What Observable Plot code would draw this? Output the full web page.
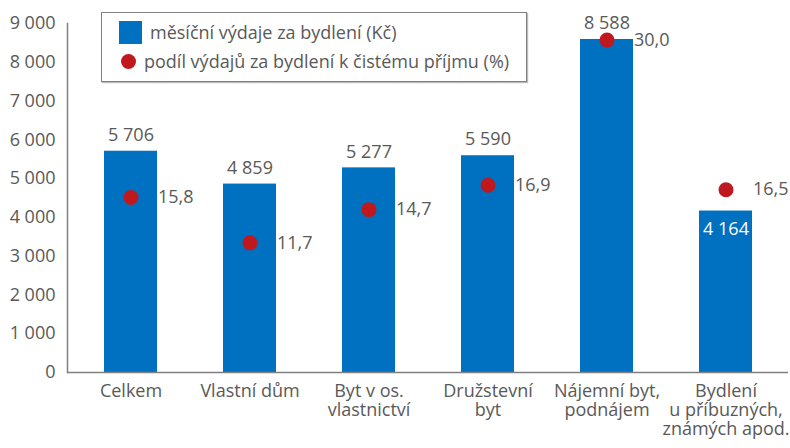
<!DOCTYPE html>
<html><head><meta charset="utf-8">
<script src="https://cdn.jsdelivr.net/npm/d3@7"></script>
<script src="https://cdn.jsdelivr.net/npm/@observablehq/plot@0.6"></script>
<style>
body{margin:0;background:#fff;}
#wrap{position:relative;width:790px;height:448px;font-family:"Open Sans",sans-serif;color:#595959;}
#legend{position:absolute;left:101px;top:12px;width:426px;height:70px;border:1px solid #808080;background:#fff;box-sizing:border-box;box-shadow:1px 1px 1px #bbb;font-size:18px;}
.li{position:absolute;left:0;white-space:nowrap;display:flex;align-items:center;}
.sq{width:23px;height:23px;background:#0070c0;margin-left:17px;margin-right:8px;}
.ci{width:15px;height:15px;border-radius:50%;background:#c0181f;margin-left:19px;margin-right:8px;}
</style></head>
<body>
<div id="wrap">
<div id="chart"></div>
<div id="legend">
  <div class="li" style="top:7px"><span class="sq"></span><span id="l1"></span></div>
  <div class="li" style="top:36px"><span class="ci"></span><span id="l2"></span></div>
</div>
</div>
<script>
const categories = ["Celkem","Vlastní dům","Byt v os.\nvlastnictví","Družstevní\nbyt","Nájemní byt,\npodnájem","Bydlení\nu příbuzných,\nznámých apod."];
const expenses = [5706,4859,5277,5590,8588,4164];
const shares = [15.8,11.7,14.7,16.9,30.0,16.5];
const yTicks = [0,1000,2000,3000,4000,5000,6000,7000,8000,9000];
const seriesNames = ["měsíční výdaje za bydlení (Kč)","podíl výdajů za bydlení k čistému příjmu (%)"];

document.getElementById("l1").textContent = seriesNames[0];
document.getElementById("l2").textContent = seriesNames[1];

const shareAxisMax = 31.5; // hidden secondary axis maximum, maps onto 9000
const data = categories.map((c,i)=>({cat:c, exp:expenses[i], share:shares[i], sy: shares[i]*9000/shareAxisMax}));
const fmtNum = d => d3.format(",")(d).replace(/,/g," ");
const fmtPct = d => d.toFixed(1).replace(".",",");
const gray = "#595959";
const fs = 18;

const plot = Plot.plot({
  width: 790, height: 448,
  marginLeft: 67, marginRight: 2, marginTop: 23, marginBottom: 76,
  style: {fontFamily: '"Open Sans", sans-serif', fontSize: fs + "px", color: gray, background: "#fff"},
  x: {domain: categories, paddingInner: 0.557, paddingOuter: 0.29, label: null},
  y: {domain: [0, 9000], label: null},
  marks: [
    Plot.gridY(yTicks.filter(d=>d>0), {stroke: "#b0b0b0", strokeOpacity: 1, strokeDasharray: "3,3", x1: 67, x2: 790}),
    Plot.barY(data, {x: "cat", y: "exp", fill: "#0070c0"}),
    Plot.ruleY([0], {stroke: "#808080", strokeWidth: 1.5}),
    Plot.frame({anchor: "left", stroke: "#808080", strokeWidth: 1.5}),
    Plot.axisY({ticks: yTicks, tickSize: 0, tickPadding: 12, tickFormat: fmtNum, fill: gray, label: null, fontSize: fs}),
    Plot.axisX({tickSize: 0, tickPadding: 11, lineHeight: 1.05, fill: gray, label: null, fontSize: fs}),
    Plot.text(data.filter(d=>d.exp>=4500), {x: "cat", y: "exp", text: d=>fmtNum(d.exp), dy: -16, fill: gray, fontSize: fs}),
    Plot.text(data.filter(d=>d.exp<4500), {x: "cat", y: "exp", text: d=>fmtNum(d.exp), dy: 18, fill: "#fff", fontSize: fs}),
    Plot.dot(data, {x: "cat", y: "sy", r: 7.5, fill: "#c0181f", stroke: null}),
    Plot.text(data, {x: "cat", y: "sy", text: d=>fmtPct(d.share), dx: 27, textAnchor: "start", fill: gray, fontSize: fs})
  ]
});
document.getElementById("chart").appendChild(plot);
</script>
</body></html>
